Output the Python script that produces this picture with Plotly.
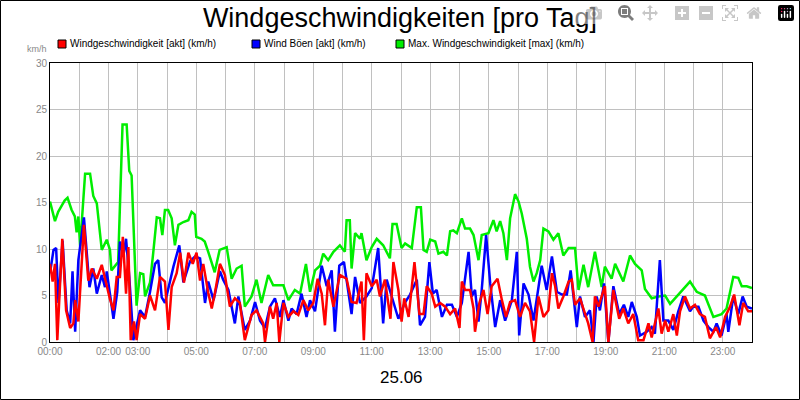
import plotly.graph_objects as go

# Windgeschwindigkeit [akt]
red_h = [0,0.09,0.17,0.25,0.42,0.55,0.69,0.8,0.86,0.97,1.16,1.31,1.43,1.6,1.77,1.94,2.05,2.17,2.28,2.39,2.49,2.6,2.68,2.76,2.87,2.96,3.08,3.25,3.42,3.59,3.76,3.93,4.05,4.16,4.33,4.45,4.58,4.73,4.88,5.01,5.13,5.24,5.41,5.53,5.64,5.81,
         5.98,6.15,6.32,6.49,6.66,6.89,7.06,7.29,7.35,7.52,7.63,7.75,7.84,7.98,8.15,8.32,8.49,8.66,8.83,9.0,9.15,9.29,9.4,9.51,9.69,9.91,10.14,10.31,10.48,10.65,10.73,10.82,11.0,11.17,11.28,11.45,11.64,11.74,11.91,
         12.02,12.11,12.26,12.46,12.63,12.77,12.88,13.05,13.17,13.34,13.51,13.68,13.85,14.0,14.08,14.19,14.36,14.48,14.53,14.68,14.82,14.96,15.1,15.3,15.45,15.59,15.73,15.9,16.07,16.24,16.41,16.55,16.7,16.87,17.04,17.16,17.27,17.38,17.55,17.73,17.84,17.95,
         18.12,18.29,18.4,18.55,18.63,18.75,18.86,18.97,19.09,19.26,19.46,19.6,19.77,19.94,20.11,20.29,20.46,20.57,20.8,20.91,21.03,21.14,21.31,21.43,21.54,21.71,21.88,22.05,22.22,22.39,22.56,22.77,22.91,23.08,23.25,23.39,23.57,23.7,23.87,24.0]
red_v = [8.4,6.5,8.4,0.2,11.1,3.4,1.5,2.0,4.5,2.2,12.6,6.6,7.9,6.8,8.3,5.9,4.6,3.4,7.0,7.0,11.3,5.2,10.2,0.2,2.2,0.2,3.0,2.5,5.0,3.4,7.0,6.5,1.3,5.9,7.4,9.6,6.4,9.6,8.4,9.6,6.6,8.4,5.3,3.6,5.3,8.4,
         7.2,3.8,4.7,4.2,0.2,2.9,3.4,2.0,0,3.8,2.5,4.2,0,4.2,2.7,3.3,2.9,4.5,3.4,4.2,6.8,5.2,1.8,6.7,3.8,7.2,6.8,4.3,4.2,6.5,0.2,7.4,6.0,6.7,4.9,6.7,2.5,8.6,5.6,
         2.2,4.7,2.7,8.6,3.0,3.0,6.0,5.2,3.8,4.2,3.8,3.0,3.6,1.5,6.5,5.6,5.6,3.6,1.1,4.2,5.6,3.0,6.0,6.8,4.5,2.7,4.3,4.5,2.7,4.2,3.3,0,4.9,2.7,3.4,7.4,6.0,3.6,4.9,6.5,6.7,4.0,
         4.7,3.0,2.0,0,4.9,3.8,4.9,6.0,0,5.6,2.5,3.6,2.0,3.0,0.2,0.2,2.0,0.5,3.6,0.9,2.3,1.1,3.0,0.7,3.3,4.9,3.6,4.0,3.0,2.7,0.4,1.6,0.5,2.7,3.8,5.1,1.8,4.2,3.3,3.3]

# Wind Böen [akt]
blue_h = [0,0.12,0.21,0.29,0.43,0.57,0.69,0.77,0.86,0.97,1.16,1.35,1.48,1.6,1.77,1.88,1.94,2.17,2.3,2.39,2.51,2.6,2.71,2.85,3.08,3.25,3.42,3.59,3.7,3.82,3.93,4.05,4.22,4.42,4.56,4.79,4.96,5.13,5.3,5.41,5.59,5.81,
          5.92,6.1,6.32,6.44,6.66,6.84,7.01,7.18,7.35,7.52,7.69,7.86,7.98,8.15,8.26,8.43,8.6,8.77,8.89,9.06,9.29,9.46,9.63,9.74,9.89,10.05,10.2,10.31,10.43,10.6,10.82,11.0,11.22,11.39,11.51,11.74,11.91,
          12.13,12.31,12.54,12.65,12.82,12.97,13.09,13.22,13.4,13.57,13.74,13.91,14.08,14.31,14.42,14.53,14.65,14.76,14.91,15.05,15.22,15.39,15.56,15.79,15.96,16.04,16.19,16.36,16.53,16.81,16.98,17.16,17.33,17.5,17.67,17.8,18.01,
          18.12,18.29,18.46,18.58,18.69,18.8,18.94,19.09,19.26,19.46,19.62,19.77,19.89,20.06,20.17,20.4,20.57,20.68,20.85,20.97,21.14,21.31,21.48,21.65,21.88,21.99,22.17,22.34,22.51,22.68,22.79,22.96,23.13,23.19,23.36,23.53,23.68,23.82,24.0]
blue_v = [7.4,9.9,10.1,4.2,10.9,3.4,2.0,7.6,1.1,8.8,13.4,5.9,7.9,5.2,7.2,5.9,7.6,2.5,5.4,10.8,9.3,11.1,7.0,0.2,3.4,2.7,5.4,8.4,8.8,4.8,4.2,5.9,8.1,10.4,6.4,8.7,9.2,9.0,4.2,6.5,4.5,7.6,
          6.7,5.6,2.0,4.9,1.3,2.3,4.3,2.3,1.5,3.8,4.7,2.7,4.5,2.3,3.6,3.0,5.2,2.7,4.5,3.3,8.2,6.0,7.7,1.1,8.2,8.6,5.6,3.0,7.0,4.2,4.9,5.8,10.1,2.0,6.7,4.2,2.5,
          4.2,5.1,6.7,1.8,2.7,8.6,5.2,5.6,2.7,4.0,4.0,2.7,4.2,9.7,4.9,5.6,2.2,5.6,11.5,6.3,1.6,4.5,2.3,4.5,9.7,0.7,6.3,5.1,2.3,8.2,5.6,9.2,5.4,5.1,5.1,7.7,1.6,
          4.9,2.7,3.4,0,4.9,3.4,6.3,0,6.0,3.0,4.0,2.7,4.3,2.7,0.7,1.1,1.6,0.9,8.8,2.3,2.3,1.3,3.3,4.9,3.3,3.8,3.8,2.3,1.6,1.1,2.0,0.7,3.0,1.1,4.9,3.0,4.9,3.8,3.6]

# Max. Windgeschwindigkeit [max]
green_h = [0,0.17,0.28,0.5,0.6,0.74,0.85,0.91,0.97,1.03,1.2,1.37,1.48,1.6,1.77,1.94,2.05,2.1,2.33,2.48,2.62,2.71,2.79,2.96,3.08,3.19,3.25,3.42,3.53,3.65,3.76,3.84,3.93,4.04,4.16,4.27,4.39,4.56,4.73,4.84,4.95,5.0,5.18,5.29,5.41,5.63,5.8,
           6.04,6.21,6.38,6.55,6.66,6.89,7.06,7.23,7.46,7.63,7.98,8.15,8.37,8.55,8.75,8.89,9.06,9.23,9.34,9.51,9.69,9.91,10.08,10.14,10.25,10.31,10.43,10.6,10.65,10.82,11.0,11.17,11.39,11.62,11.71,11.85,
           12.02,12.14,12.37,12.54,12.68,12.77,12.88,13.0,13.17,13.28,13.45,13.57,13.68,13.79,13.91,14.08,14.19,14.36,14.48,14.65,14.76,14.99,15.16,15.27,15.39,15.5,15.62,15.73,15.9,16.02,16.13,16.3,16.41,16.53,16.64,16.76,16.87,17.04,17.21,17.38,17.55,17.73,17.95,18.07,
           18.24,18.4,18.63,18.86,18.97,19.2,19.32,19.6,19.83,20.0,20.23,20.34,20.57,20.8,21.03,21.2,21.43,21.88,22.11,22.39,22.68,22.96,23.13,23.36,23.53,23.65,23.82,24.0]
green_v = [15.1,13.0,14.0,15.2,15.5,14.2,13.5,11.8,13.5,10.3,18.1,18.1,15.7,14.9,9.9,11.0,9.9,7.7,8.6,23.4,23.4,18.4,17.9,3.9,7.4,7.3,4.9,6.4,9.6,13.4,13.3,11.5,14.2,14.2,13.3,10.4,12.6,12.9,13.1,14.0,13.7,11.3,11.1,10.8,9.7,7.5,9.9,
           10.2,6.8,7.9,8.2,3.8,4.9,6.7,4.2,7.2,6.1,6.1,4.5,5.6,5.2,8.4,5.4,7.7,8.2,9.5,8.8,9.7,10.4,9.7,13.1,13.1,7.9,11.7,11.1,11.7,8.8,10.2,11.1,10.4,9.0,12.7,12.7,
           10.1,10.6,10.1,14.5,14.5,9.9,9.7,11.0,10.8,9.5,9.7,9.3,11.9,12.0,11.7,13.3,12.2,12.2,11.5,8.8,11.5,11.7,13.1,11.9,13.0,11.7,8.8,13.3,15.9,15.1,13.8,11.1,8.1,6.5,7.4,8.8,12.2,11.9,11.0,11.7,9.3,10.1,10.1,5.6,
           8.3,5.9,9.7,5.9,8.1,6.8,8.4,6.5,9.3,8.4,7.7,5.7,4.7,4.9,5.0,4.1,4.9,6.5,5.4,5.0,2.7,3.0,3.6,7.0,6.9,6.0,6.0,5.8]

names = ["Windgeschwindigkeit [akt] (km/h)", "Wind Böen [akt] (km/h)", "Max. Windgeschwindigkeit [max] (km/h)"]
colors = ["#ff0000", "#0000ff", "#00ee00"]
legend_px = [62, 256, 400]
tick_hours = [0, 2, 3, 5, 7, 9, 11, 13, 15, 17, 19, 21, 23]
tick_labels = ["%02d:00" % h for h in tick_hours]

PW, PH = 702.0, 279.0
fig = go.Figure()
for (hx, vy, c) in [(green_h, green_v, colors[2]), (blue_h, blue_v, colors[1]), (red_h, red_v, colors[0])]:
    fig.add_trace(go.Scatter(x=hx, y=vy, mode="lines", line=dict(color=c, width=2.5), showlegend=False, hoverinfo="skip"))

shapes = [dict(type="rect", xref="paper", yref="paper", x0=-49.5 / PW, x1=1 + 47.5 / PW, y0=-57.5 / PH, y1=1 + 62.5 / PH,
               line=dict(color="black", width=1))]
annotations = [
    dict(text="km/h", xref="paper", yref="paper", x=-13 / PW, y=1 + 14 / PH, xanchor="center", yanchor="middle",
         showarrow=False, font=dict(size=9, color="#888888")),
    dict(text="25.06", xref="paper", yref="paper", x=0.5, y=-35 / PH, xanchor="center", yanchor="middle",
         showarrow=False, font=dict(size=17, color="black")),
]
ly = 1 + (342 - 44) / PH - 1
for n, c, px in zip(names, colors, legend_px):
    cx = (px - 50) / PW
    shapes.append(dict(type="rect", xref="paper", yref="paper", x0=cx - 4 / PW, x1=cx + 4 / PW,
                       y0=(342 - 48) / PH, y1=(342 - 40) / PH, fillcolor=c, line=dict(color="black", width=1)))
    annotations.append(dict(text=n, xref="paper", yref="paper", x=cx + 6 / PW, y=(342 - 44) / PH,
                            xanchor="left", yanchor="middle", showarrow=False, font=dict(size=10, color="black")))

fig.update_layout(
    width=800, height=400, paper_bgcolor="white", plot_bgcolor="white",
    margin=dict(l=50, r=48, t=63, b=58),
    font=dict(family="Liberation Sans, Arial", color="#888888", size=10),
    title=dict(text="Windgeschwindigkeiten [pro Tag]", x=0.5, xanchor="center", y=0.955, yanchor="middle",
               font=dict(size=27, color="black")),
    showlegend=False,
    shapes=shapes, annotations=annotations,
)
fig.update_xaxes(range=[0, 24], tickmode="array", tickvals=tick_hours, ticktext=tick_labels,
                 showgrid=True, gridcolor="#c0c0c0", showline=True, linecolor="black", linewidth=1, mirror=True,
                 ticks="", zeroline=False, tickfont=dict(size=10, color="#888888"), automargin=False,
                 minor=dict(dtick=1, tick0=0, showgrid=True, gridcolor="#c0c0c0"))
fig.update_yaxes(range=[0, 30], dtick=5, showgrid=True, gridcolor="#c0c0c0", showline=True, linecolor="black",
                 linewidth=1, mirror=True, ticks="", zeroline=False, tickfont=dict(size=10, color="#888888"),
                 automargin=False)
fig.write_html("out.html", post_script="document.body.style.margin='0';document.body.style.overflow='hidden';")
